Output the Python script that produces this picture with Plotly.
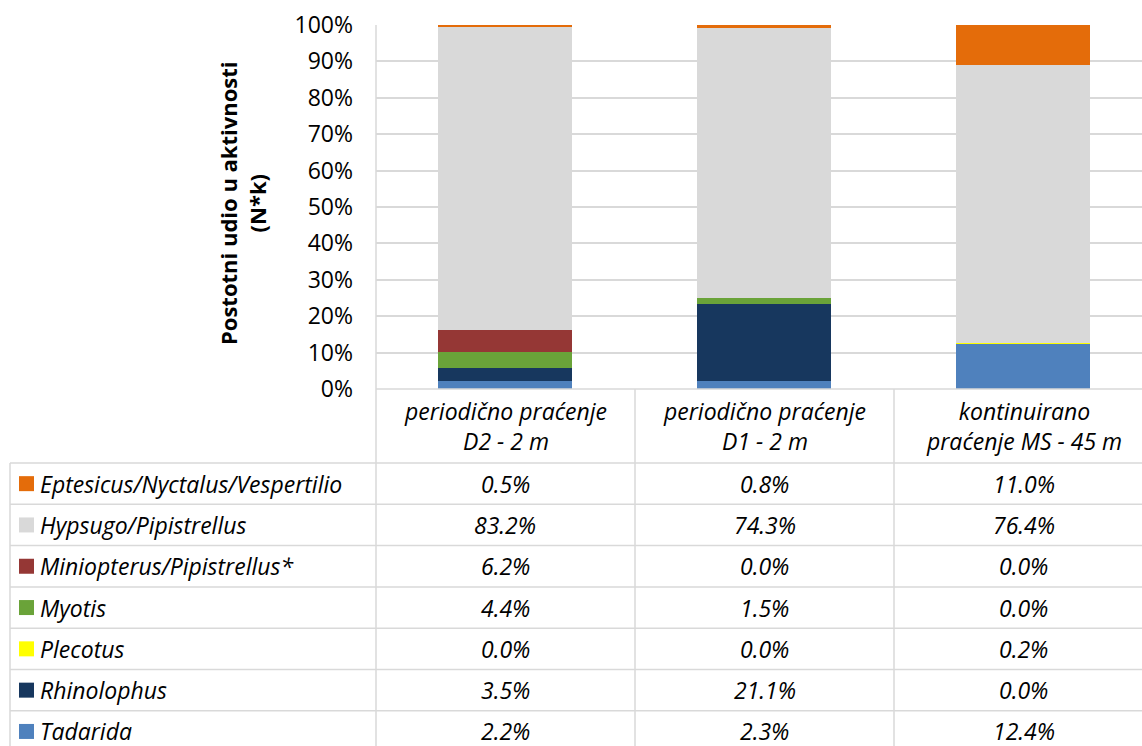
import plotly.graph_objects as go

# Sampling sites (stacked bars) and species groups (stack order bottom -> top)
sites = ["periodično praćenje<br>D2 - 2 m",
         "periodično praćenje<br>D1 - 2 m",
         "kontinuirano<br>praćenje MS - 45 m"]

tadarida = [2.2, 2.3, 12.4]
rhinolophus = [3.5, 21.1, 0.0]
plecotus = [0.0, 0.0, 0.2]
myotis = [4.4, 1.5, 0.0]
miniopterus = [6.2, 0.0, 0.0]
hypsugo = [83.2, 74.3, 76.4]
eptesicus = [0.5, 0.8, 11.0]

# Table rows are listed top -> bottom (alphabetical), bars stack bottom -> top
table_rows = [
    ("Eptesicus/Nyctalus/Vespertilio", eptesicus, "#E46C0A"),
    ("Hypsugo/Pipistrellus", hypsugo, "#D9D9D9"),
    ("Miniopterus/Pipistrellus*", miniopterus, "#953735"),
    ("Myotis", myotis, "#6AA339"),
    ("Plecotus", plecotus, "#FFFF00"),
    ("Rhinolophus", rhinolophus, "#17375E"),
    ("Tadarida", tadarida, "#4F81BD"),
]

yticks = [0, 10, 20, 30, 40, 50, 60, 70, 80, 90, 100]
ytick_text = [f"{v}%" for v in yticks]

W, H = 1142, 746
FONT = "Open Sans"
GRID = "#D9D9D9"
FS = 23


def px(x):
    return x / W


def py(y):
    return 1 - y / H


fig = go.Figure()
for name, vals, color in reversed(table_rows):
    fig.add_trace(go.Bar(
        x=[0, 1, 2], y=vals, name=name,
        marker=dict(color=color,
                    line=dict(color=color,
                              width=[1 if v > 0 else 0 for v in vals])),
        width=0.515, showlegend=False,
    ))

# Plot area: left edge at 376 px, categories 259 px wide (last column runs past the page)
x_left, y_top, y_bot = 376, 25, 389
col_w = 259
cols = [x_left + i * col_w for i in range(4)]
x_max = -0.5 + (W - x_left) / col_w

fig.update_layout(
    width=W, height=H,
    margin=dict(l=0, r=0, t=0, b=0, pad=0, autoexpand=False),
    plot_bgcolor="white", paper_bgcolor="white",
    barmode="stack", bargap=0,
    font=dict(family=FONT, color="#000000"),
    xaxis=dict(domain=[px(x_left), 1], range=[-0.5, x_max],
               showticklabels=False, showgrid=False, zeroline=False,
               automargin=False, fixedrange=True),
    yaxis=dict(domain=[py(y_bot), py(y_top)], range=[0, 100],
               tickvals=yticks, ticktext=ytick_text,
               tickfont=dict(size=FS, family=FONT, color="#000000"),
               ticklabelstandoff=22, automargin=False,
               showgrid=True, gridcolor=GRID, gridwidth=1.5,
               zeroline=False, showline=False, fixedrange=True),
)

shapes = []
line = dict(color=GRID, width=1.5)
# vertical line on the left of the plot area, down through the table
shapes.append(dict(type="line", xref="paper", yref="paper",
                   x0=px(x_left), x1=px(x_left), y0=py(y_top), y1=0, line=line))
for cx in cols[1:3]:
    shapes.append(dict(type="line", xref="paper", yref="paper",
                       x0=px(cx), x1=px(cx), y0=py(y_bot), y1=0, line=line))
# table left border
table_top = 463
row_h = 41.3
shapes.append(dict(type="line", xref="paper", yref="paper",
                   x0=px(10), x1=px(10), y0=py(table_top), y1=0, line=line))
# horizontal lines
shapes.append(dict(type="line", xref="paper", yref="paper",
                   x0=px(x_left), x1=1, y0=py(y_bot), y1=py(y_bot), line=line))
for i in range(len(table_rows)):
    yy = table_top + i * row_h
    shapes.append(dict(type="line", xref="paper", yref="paper",
                       x0=px(10), x1=1, y0=py(yy), y1=py(yy), line=line))

annotations = []
# category header cells
for i, s in enumerate(sites):
    annotations.append(dict(
        text=f"<i>{s}</i>", xref="x", yref="paper", x=i, y=py(426),
        showarrow=False, xanchor="center", yanchor="middle",
        font=dict(size=FS, family=FONT), align="center"))

# table body: legend swatch, series name, values per site
for r, (name, vals, color) in enumerate(table_rows):
    yc = table_top + r * row_h + row_h / 2
    shapes.append(dict(type="rect", xref="paper", yref="paper",
                       x0=px(19), x1=px(34), y0=py(yc - 7.5), y1=py(yc + 7.5),
                       fillcolor=color, line=dict(width=0)))
    annotations.append(dict(
        text=f"<i>{name}</i>", xref="paper", yref="paper", x=px(38), y=py(yc),
        showarrow=False, xanchor="left", yanchor="middle",
        font=dict(size=FS, family=FONT)))
    for i, v in enumerate(vals):
        annotations.append(dict(
            text=f"<i>{v:.1f}%</i>", xref="x", yref="paper", x=i, y=py(yc),
            showarrow=False, xanchor="center", yanchor="middle",
            font=dict(size=FS, family=FONT)))

# y-axis title
annotations.append(dict(
    text="<b>Postotni udio u aktivnosti<br>(N*k)</b>", xref="paper", yref="paper",
    x=px(242), y=py(203), textangle=-90, showarrow=False,
    xanchor="center", yanchor="middle", align="center",
    font=dict(size=22, family=FONT)))

fig.update_layout(shapes=shapes, annotations=annotations)
fig.write_html("out.html")
